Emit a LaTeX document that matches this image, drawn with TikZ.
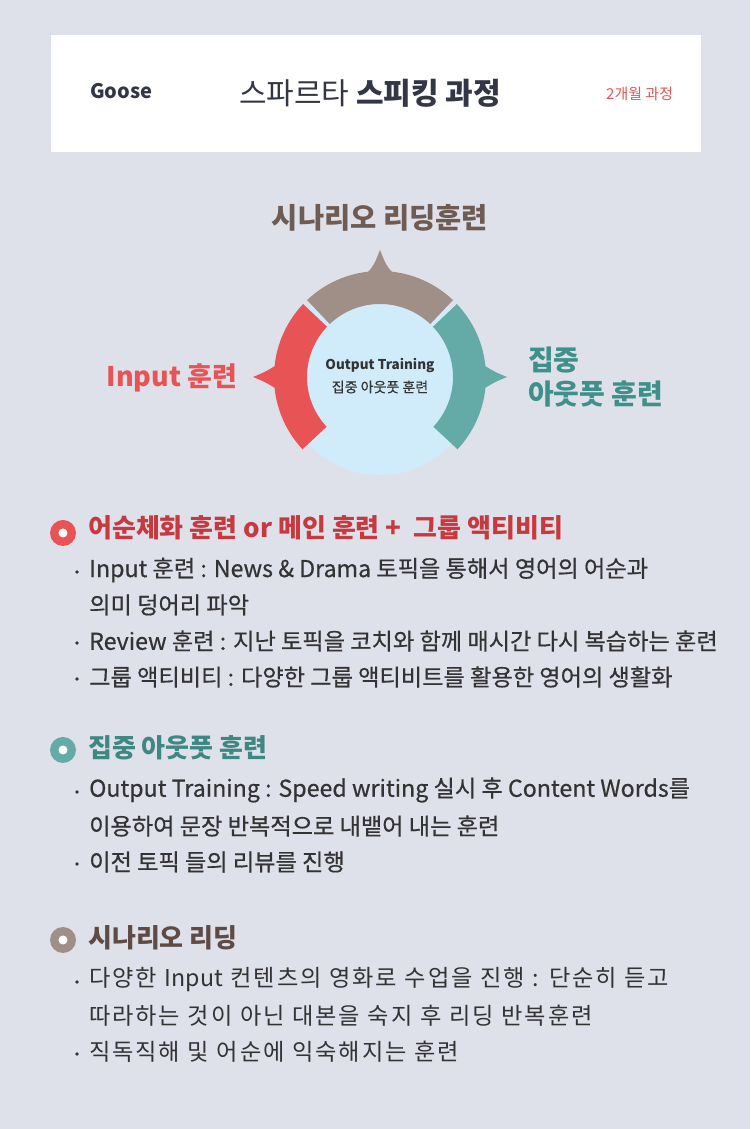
\documentclass[tikz,border=0pt]{standalone}
\usepackage{fontspec}
\setmainfont{Noto Sans CJK KR}
\newfontfamily\widefont{Noto Sans CJK KR}[LetterSpace=8,WordSpace=1.1]
\definecolor{bg}{HTML}{DFE1EA}
\definecolor{ringred}{HTML}{E85355}
\definecolor{ringbrown}{HTML}{A08F87}
\definecolor{ringteal}{HTML}{64ABA7}
\definecolor{core}{HTML}{D0ECFA}
\definecolor{titlec}{HTML}{333645}
\definecolor{txt}{HTML}{333333}
\definecolor{hred}{HTML}{C63A3F}
\definecolor{hteal}{HTML}{3E8783}
\definecolor{hbrown}{HTML}{5E4B45}
\definecolor{lbrown}{HTML}{6E5B53}
\definecolor{lteal}{HTML}{3F8F8A}
\definecolor{smallred}{HTML}{E05555}
\tikzset{
  body/.style={font=\fontsize{23.2}{27}\selectfont\addfontfeature{FakeBold=0.5}, text=txt, anchor=west, inner sep=0},
  bodywide/.style={font=\widefont\fontsize{23.2}{27}\selectfont, text=txt, anchor=west, inner sep=0},
  head/.style={font=\fontsize{26}{30}\selectfont\bfseries, anchor=west, inner sep=0},
  bdot/.style={circle, fill=txt, inner sep=0, minimum size=3.6pt},
  ico/.style={circle, inner sep=0, minimum size=26pt},
  wdot/.style={circle, fill=white, inner sep=0, minimum size=9pt},
  biglabel/.style={font=\fontsize{28}{32}\selectfont\bfseries, inner sep=0},
}
\begin{document}
\begin{tikzpicture}[x=1pt,y=1pt]
\useasboundingbox (0,0) rectangle (750,1129);
\fill[bg] (0,0) rectangle (750,1129);
% header
\node[fill=white, minimum width=650pt, minimum height=117pt, inner sep=0, anchor=north west] (header) at (51,1094) {};
\node[font=\fontsize{20}{24}\selectfont\bfseries, text=titlec, anchor=west, inner sep=0] (goose) at (90,1038) {Goose};
\node[font=\fontsize{30}{34}\selectfont, text=titlec, inner sep=0] (title) at (370,1036) {스파르타 \textbf{스피킹 과정}};
\node[font=\fontsize{15}{17}\selectfont, text=smallred, anchor=west, inner sep=0] (period) at (606,1035) {2개월 과정};
% ring
\coordinate (c) at (380,752);
\fill[core] (c) circle[radius=98];
\fill[ringbrown] ([shift={(46.5:73)}]c) arc[start angle=46.5,end angle=133.5,radius=73] -- ([shift={(133.5:106)}]c) arc[start angle=133.5,end angle=46.5,radius=106] -- cycle;
\fill[ringred] ([shift={(136.5:73)}]c) arc[start angle=136.5,end angle=223,radius=73] -- ([shift={(223:106)}]c) arc[start angle=223,end angle=136.5,radius=106] -- cycle;
\fill[ringteal] ([shift={(-43:73)}]c) arc[start angle=-43,end angle=43.5,radius=73] -- ([shift={(43.5:106)}]c) arc[start angle=43.5,end angle=-43,radius=106] -- cycle;
% arrow tips
\fill[ringbrown] (367,850) -- (368,857) .. controls (374,864) .. (380,879) .. controls (386,864) .. (392,857) -- (393,850) -- cycle;
\fill[ringred] (286,763) -- (275,763) .. controls (265,757) .. (253,752) .. controls (265,747) .. (275,741) -- (286,741) -- cycle;
\fill[ringteal] (474,763) -- (485,763) .. controls (495,757) .. (507,752) .. controls (495,747) .. (485,741) -- (474,741) -- cycle;
% ring labels
\node[font=\fontsize{13.5}{16}\selectfont\bfseries, text=txt, inner sep=0] (ctr1) at (380,763) {Output Training};
\node[font=\fontsize{14}{16}\selectfont\addfontfeature{FakeBold=0.4}, text=txt, inner sep=0] (ctr2) at (380,742) {집중 아웃풋 훈련};
\node[biglabel, text=lbrown, font=\fontsize{28.5}{32}\selectfont\bfseries] (lab1) at (380,911) {시나리오 리딩훈련};
\node[biglabel, text=ringred, font=\fontsize{27}{31}\selectfont\bfseries] (lab2) at (172,751) {Input 훈련};
\node[biglabel, text=lteal, anchor=west] (lab3a) at (528,769) {집중};
\node[biglabel, text=lteal, anchor=west] (lab3b) at (528,735) {아웃풋 훈련};
% section 1
\node[ico, fill=ringred] (i1) at (63,596) {};
\node[wdot] at (i1) {};
\node[head, text=hred] (h1) at (88,601) {어순체화 훈련 or 메인 훈련 +~ 그룹 액티비티};
\node[bdot] (d11) at (77,557) {};
\node[body] (t11) at (89,559) {Input 훈련 : News \& Drama 토픽을 통해서 영어의 어순과};
\node[body] (t12) at (89,524) {의미 덩어리 파악};
\node[bdot] (d12) at (77,486) {};
\node[body] (t13) at (89,488) {Review 훈련 : 지난 토픽을 코치와 함께 매시간 다시 복습하는 훈련};
\node[bdot] (d13) at (77,450) {};
\node[body] (t14) at (89,452) {그룹 액티비티 : 다양한 그룹 액티비트를 활용한 영어의 생활화};
% section 2
\node[ico, fill=ringteal] (i2) at (63,379) {};
\node[wdot] at (i2) {};
\node[head, text=hteal] (h2) at (88,381) {집중 아웃풋 훈련};
\node[bdot] (d21) at (77,337) {};
\node[body] (t21) at (89,339) {Output Training : Speed writing 실시 후 Content Words를};
\node[body] (t22) at (89,303) {이용하여 문장 반복적으로 내뱉어 내는 훈련};
\node[bdot] (d22) at (77,265) {};
\node[body] (t23) at (89,267) {이전 토픽 들의 리뷰를 진행};
% section 3
\node[ico, fill=ringbrown] (i3) at (63,189) {};
\node[wdot] at (i3) {};
\node[head, text=hbrown] (h3) at (88,191) {시나리오 리딩};
\node[bdot] (d31) at (77,147) {};
\node[bodywide] (t31) at (89,149) {다양한 {\addfontfeature{LetterSpace=0}Input} 컨텐츠의 영화로 수업을 진행 : 단순히 듣고};
\node[bodywide] (t32) at (89,113) {따라하는 것이 아닌 대본을 숙지 후 리딩 반복훈련};
\node[bdot] (d32) at (77,75) {};
\node[bodywide] (t33) at (89,77) {직독직해 및 어순에 익숙해지는 훈련};
\end{tikzpicture}
\end{document}
